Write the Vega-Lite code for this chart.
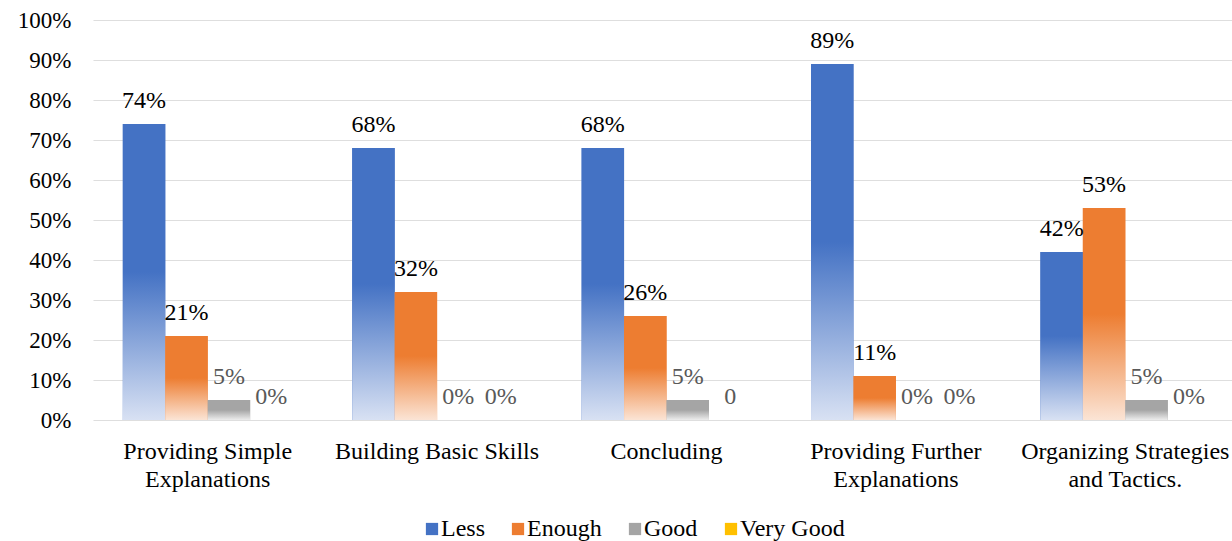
{
  "$schema": "https://vega.github.io/schema/vega-lite/v6.json",
  "autosize": {"type": "none"},
  "width": 1147,
  "height": 400,
  "padding": {"left": 93, "top": 20, "right": 0, "bottom": 121},
  "background": "white",
  "config": {
    "view": {"stroke": null},
    "font": "Liberation Serif",
    "axis": {"labelFont": "Liberation Serif", "labelColor": "#000000"},
    "legend": {"labelFont": "Liberation Serif"}
  },
  "data": {
    "values": [
      {"category": "Providing Simple\nExplanations", "series": "Less", "value": 0.74, "label": "74%"},
      {"category": "Providing Simple\nExplanations", "series": "Enough", "value": 0.21, "label": "21%"},
      {"category": "Providing Simple\nExplanations", "series": "Good", "value": 0.05, "label": "5%"},
      {"category": "Providing Simple\nExplanations", "series": "Very Good", "value": 0, "label": "0%"},
      {"category": "Building Basic Skills", "series": "Less", "value": 0.68, "label": "68%"},
      {"category": "Building Basic Skills", "series": "Enough", "value": 0.32, "label": "32%"},
      {"category": "Building Basic Skills", "series": "Good", "value": 0, "label": "0%"},
      {"category": "Building Basic Skills", "series": "Very Good", "value": 0, "label": "0%"},
      {"category": "Concluding", "series": "Less", "value": 0.68, "label": "68%"},
      {"category": "Concluding", "series": "Enough", "value": 0.26, "label": "26%"},
      {"category": "Concluding", "series": "Good", "value": 0.05, "label": "5%"},
      {"category": "Concluding", "series": "Very Good", "value": 0, "label": "0"},
      {"category": "Providing Further\nExplanations", "series": "Less", "value": 0.89, "label": "89%"},
      {"category": "Providing Further\nExplanations", "series": "Enough", "value": 0.11, "label": "11%"},
      {"category": "Providing Further\nExplanations", "series": "Good", "value": 0, "label": "0%"},
      {"category": "Providing Further\nExplanations", "series": "Very Good", "value": 0, "label": "0%"},
      {"category": "Organizing Strategies\nand Tactics.", "series": "Less", "value": 0.42, "label": "42%"},
      {"category": "Organizing Strategies\nand Tactics.", "series": "Enough", "value": 0.53, "label": "53%"},
      {"category": "Organizing Strategies\nand Tactics.", "series": "Good", "value": 0.05, "label": "5%"},
      {"category": "Organizing Strategies\nand Tactics.", "series": "Very Good", "value": 0, "label": "0%"}
    ]
  },
  "encoding": {
    "x": {
      "field": "category", "type": "nominal", "sort": null,
      "scale": {"paddingInner": 0.26, "paddingOuter": 0.13},
      "axis": {
        "title": null, "labelAngle": 0, "ticks": false, "domain": false,
        "labelFontSize": 24, "labelPadding": 19, "labelLineHeight": 28,
        "labelExpr": "split(datum.value, '\\n')", "labelLimit": 400
      }
    },
    "xOffset": {
      "field": "series", "type": "nominal",
      "scale": {"domain": ["Less", "Enough", "Good", "Very Good"]}
    },
    "y": {
      "field": "value", "type": "quantitative",
      "scale": {"domain": [0, 1], "nice": false},
      "axis": {
        "title": null, "format": ".0%", "values": [0, 0.1, 0.2, 0.3, 0.4, 0.5, 0.6, 0.7, 0.8, 0.9, 1],
        "ticks": false, "domain": false, "labelFontSize": 23, "labelPadding": 22,
        "gridColor": "#dedede", "gridWidth": 1.2
      }
    }
  },
  "layer": [
    {
      "mark": {"type": "bar"},
      "encoding": {
        "color": {
          "field": "series", "type": "nominal",
          "scale": {"domain": ["Less", "Enough", "Good", "Very Good"], "range": ["#4472C4", "#ED7D31", "#A5A5A5", "#FFC000"]},
          "legend": {
            "title": null, "orient": "none", "direction": "horizontal",
            "legendX": 327, "legendY": 497,
            "symbolType": "square", "symbolSize": 150, "symbolStrokeWidth": 0,
            "labelFontSize": 24, "labelColor": "#000000", "labelOffset": -3, "columnPadding": 21
          }
        }
      }
    },
    {
      "transform": [{"filter": "datum.series == 'Less'"}],
      "mark": {"type": "bar", "fill": {"gradient": "linear", "x1": 0, "y1": 0, "x2": 0, "y2": 1,
        "stops": [{"offset": 0, "color": "#4472C4"}, {"offset": 0.5, "color": "#4472C4"}, {"offset": 1, "color": "#D8E1F3"}]}}
    },
    {
      "transform": [{"filter": "datum.series == 'Enough'"}],
      "mark": {"type": "bar", "fill": {"gradient": "linear", "x1": 0, "y1": 0, "x2": 0, "y2": 1,
        "stops": [{"offset": 0, "color": "#ED7D31"}, {"offset": 0.5, "color": "#ED7D31"}, {"offset": 1, "color": "#FBE4D5"}]}}
    },
    {
      "transform": [{"filter": "datum.series == 'Good'"}],
      "mark": {"type": "bar", "fill": {"gradient": "linear", "x1": 0, "y1": 0, "x2": 0, "y2": 1,
        "stops": [{"offset": 0, "color": "#A5A5A5"}, {"offset": 0.5, "color": "#A5A5A5"}, {"offset": 1, "color": "#EDEDED"}]}}
    },
    {
      "transform": [{"filter": "datum.series == 'Very Good'"}],
      "mark": {"type": "bar", "fill": {"gradient": "linear", "x1": 0, "y1": 0, "x2": 0, "y2": 1,
        "stops": [{"offset": 0, "color": "#FFC000"}, {"offset": 0.5, "color": "#FFC000"}, {"offset": 1, "color": "#FFF2CC"}]}}
    },
    {
      "mark": {"type": "text", "fontSize": 24, "baseline": "alphabetic", "dy": -16, "font": "Liberation Serif"},
      "encoding": {
        "text": {"field": "label"},
        "color": {"condition": {"test": "datum.series == 'Good' || datum.series == 'Very Good'", "value": "#595959"}, "value": "#000000"}
      }
    }
  ]
}
